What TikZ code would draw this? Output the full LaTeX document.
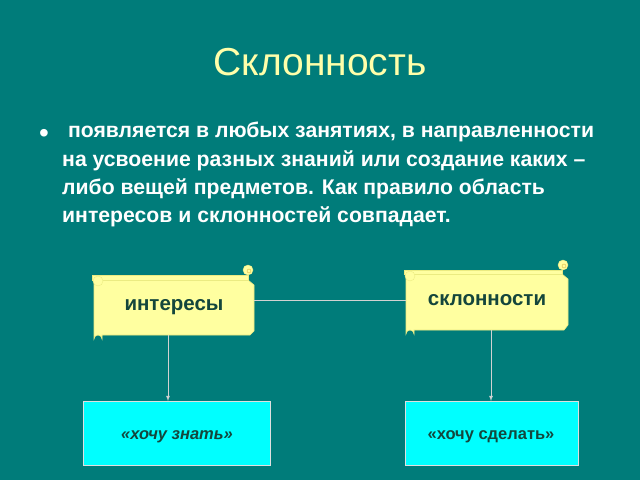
\documentclass[tikz,border=0pt]{standalone}
\usepackage{fontspec}
\setmainfont{Liberation Sans}
\begin{document}
\begin{tikzpicture}[x=1pt,y=-1pt]
\definecolor{bg}{RGB}{0,124,122}
\definecolor{scr}{RGB}{255,255,160}
\definecolor{scre}{RGB}{235,235,130}
\definecolor{cyn}{RGB}{0,255,255}
\definecolor{dk}{RGB}{20,70,60}
\tikzset{
  scrollc/.style={fill=scr, draw=scre, line width=0.6pt},
  conn/.style={draw=gray!35, line width=0.8pt},
  cbox/.style={fill=cyn, draw=gray!25, line width=0.6pt},
  lbl/.style={font=\bfseries\fontsize{20.5}{24}\selectfont, text=dk}}
\fill[bg] (0,0) rectangle (640,480);
\useasboundingbox (0,0) rectangle (640,480);
\node[text={rgb,255:red,255;green,255;blue,170}, font=\fontsize{39}{44}\selectfont] (title) at (320,62) {Склонность};
\node[text=white, font=\fontsize{28}{28}\selectfont] (bul) at (44,136) {•};
\node[anchor=north west, text=white, font=\bfseries\fontsize{21.2}{28.3}\selectfont, align=left, inner sep=0] (txt) at (62,122)
 {\ появляется в любых занятиях, в направленности\\на усвоение разных знаний или создание каких –\\либо вещей предметов. Как правило область\\интересов и склонностей совпадает.};
% scroll 1
\path[scrollc] (94,280) -- (248,280) -- (254,285) -- (254,331) -- (250,335) -- (102,335) -- (102,339) arc (0:-180:4) -- (94,280) -- cycle;
\path[scrollc] (92,275) rectangle (248,280);
\fill[scr, draw=scre] (248,270) circle (5);
\draw[yellow!40!brown] (249,271) circle (2);
\fill[scr, draw=scre] (98,281) circle (5);
\node[lbl] (int) at (174,307) {интересы};
% scroll 2
\path[scrollc] (406,274) -- (562,274) -- (568,279) -- (568,325) -- (564,330) -- (414,330) -- (414,334) arc (0:-180:4) -- (406,274) -- cycle;
\path[scrollc] (404,270) rectangle (562,274);
\fill[scr, draw=scre] (563,265) circle (5);
\draw[yellow!40!brown] (564,266) circle (2);
\fill[scr, draw=scre] (410,276) circle (5);
\node[lbl] (skl) at (487,300) {склонности};
\coordinate (a1) at (254,300);
\coordinate (a2) at (406,300);
\draw[conn] (a1) -- (a2);
% boxes
\node[cbox, minimum width=187, minimum height=64, anchor=north west] (kz) at (83,401) {};
\node[cbox, minimum width=173, minimum height=64, anchor=north west] (ks) at (405,401) {};
\node[text=dk, font=\bfseries\itshape\fontsize{16.5}{18}\selectfont] at (177,437) {«хочу знать»};
\node[text=dk, font=\bfseries\fontsize{16.5}{18}\selectfont] at (491,437) {«хочу сделать»};
\coordinate (s1) at (168,335);
\coordinate (s2) at (491,330);
\draw[conn,-latex] (s1) -- (kz.north west -| s1);
\draw[conn,-latex] (s2) -- (ks.north west -| s2);
\end{tikzpicture}
\end{document}
